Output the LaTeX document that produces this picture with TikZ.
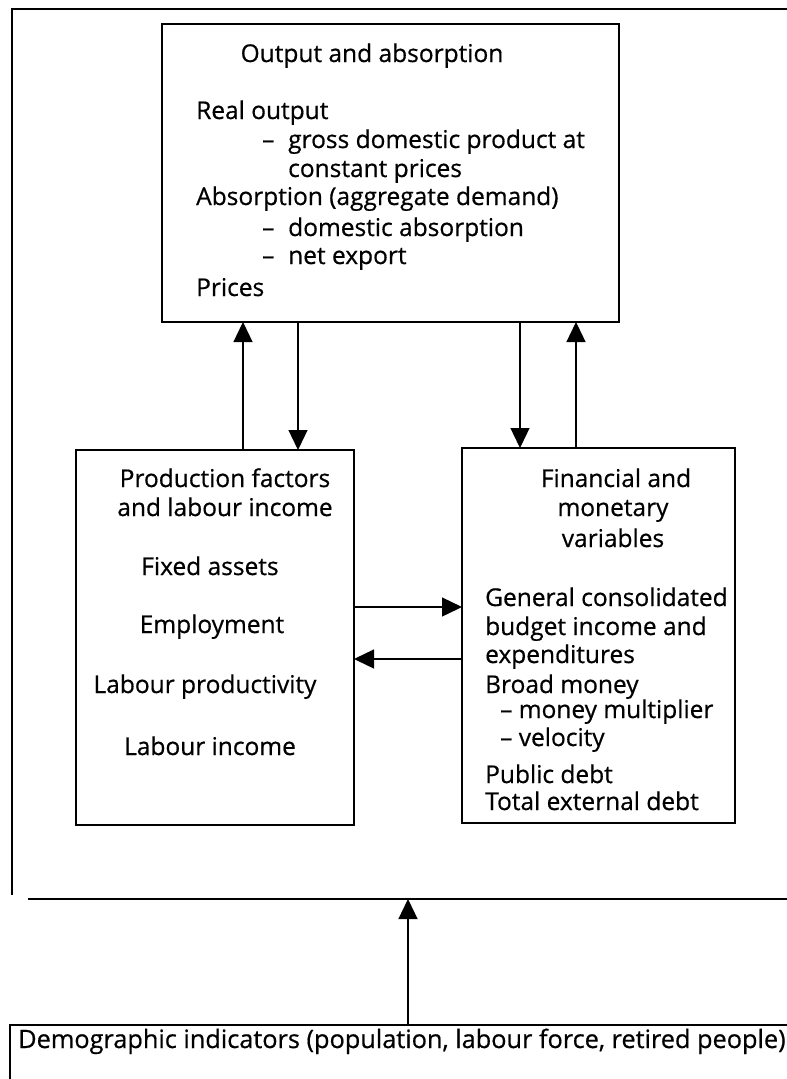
\documentclass[tikz,border=0pt]{standalone}
\usepackage{fontspec}
\setmainfont{Open Sans}[FakeBold=0.6]
\usetikzlibrary{arrows.meta}
\newcommand\tf{\fontsize{24.5}{28}\selectfont}
\newcommand\tfd{\fontsize{25.3}{28}\selectfont}
\tikzset{
  box/.style={draw, line width=1.3pt, inner sep=0pt, outer sep=0pt},
  txt/.style={anchor=base west, inner sep=0pt, font=\tf},
  ctxt/.style={anchor=base, inner sep=0pt, font=\tf},
  arr/.style={line width=1.3pt, -{Triangle[length=20pt,width=19pt]}},
  frame/.style={line width=1.3pt},
}
\begin{document}
\begin{tikzpicture}[x=1pt,y=-1pt]
\useasboundingbox (0,0) rectangle (787,1079);
% boxes
\node[box, minimum width=457pt, minimum height=298pt] (top) at (390.5,173) {};
\node[box, minimum width=278pt, minimum height=375pt] (lf) at (215,637.5) {};
\node[box, minimum width=273pt, minimum height=375pt] (rt) at (598.5,635.5) {};
% top box text
\node[ctxt] (t0) at (372,62) {Output and absorption};
\node[txt] (t1) at (196,119) {Real output};
\node[txt] (t2d) at (262,148) {–};
\node[txt] (t2) at (288,148) {gross domestic product at};
\node[txt] (t3) at (288,177) {constant prices};
\node[txt] (t4) at (196,205) {Absorption (aggregate demand)};
\node[txt] (t5d) at (262,236) {–};
\node[txt] (t5) at (288,236) {domestic absorption};
\node[txt] (t6d) at (262,264) {–};
\node[txt] (t6) at (288,264) {net export};
\node[txt] (t7) at (196,296) {Prices};
% left box text
\node[ctxt] (l0) at (225,487) {Production factors};
\node[ctxt] (l1) at (225,516) {and labour income};
\node[ctxt] (l2) at (210,575) {Fixed assets};
\node[ctxt] (l3) at (212,633) {Employment};
\node[ctxt] (l4) at (205,693) {Labour productivity};
\node[ctxt] (l5) at (210,755) {Labour income};
% right box text
\node[ctxt] (r0) at (616,487) {Financial and};
\node[ctxt] (r1) at (613,516) {monetary};
\node[ctxt] (r2) at (613,547) {variables};
\node[txt] (r3) at (485,606) {General consolidated};
\node[txt] (r4) at (485,635) {budget income and};
\node[txt] (r5) at (485,663) {expenditures};
\node[txt] (r6) at (485,693) {Broad money};
\node[txt] (r7) at (500,718) {– money multiplier};
\node[txt] (r8) at (500,746) {– velocity};
\node[txt] (r9) at (485,783) {Public debt};
\node[txt] (r10) at (485,810) {Total external debt};
% demographic
\node[txt, font=\tfd] (demo) at (18,1048) {Demographic indicators (population, labour force, retired people)};
% helper coordinates
\coordinate (xa) at (243,0);
\coordinate (xb) at (298,0);
\coordinate (xc) at (520,0);
\coordinate (xd) at (576,0);
\coordinate (xe) at (408,0);
\coordinate (ya) at (0,607);
\coordinate (yb) at (0,659);
\coordinate (f1) at (787,9);
\coordinate (f2) at (12,9);
\coordinate (f3) at (12,895);
\coordinate (f4) at (28,899);
\coordinate (f5) at (787,899);
\coordinate (d1) at (787,1025);
\coordinate (d2) at (10,1025);
\coordinate (d3) at (10,1079);
% frame and demographic box
\draw[frame] (f1) -- (f2) -- (f3);
\draw[frame] (f4) -- (f5);
\draw[frame] (d1) -- (d2) -- (d3);
% arrows
\draw[arr] (lf.north -| xa) -- (top.south -| xa);
\draw[arr] (top.south -| xb) -- (lf.north -| xb);
\draw[arr] (top.south -| xc) -- (rt.north -| xc);
\draw[arr] (rt.north -| xd) -- (top.south -| xd);
\draw[arr] (lf.east |- ya) -- (rt.west |- ya);
\draw[arr] (rt.west |- yb) -- (lf.east |- yb);
\draw[arr] (d2 -| xe) -- (f4 -| xe);
\end{tikzpicture}
\end{document}
